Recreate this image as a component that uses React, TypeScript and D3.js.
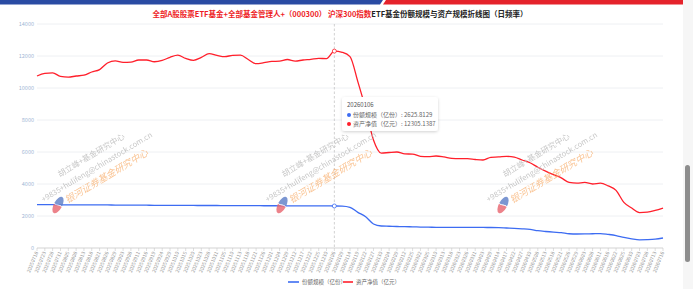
import React from "react";
import * as d3 from "d3";

// Trading dates shown on the category axis
const dates = [
  "20250718","20250723","20250728","20250731","20250805","20250808","20250813","20250818","20250821","20250826",
  "20250829","20250903","20250908","20250911","20250916","20250919","20250924","20250929","20251010","20251015",
  "20251020","20251023","20251028","20251031","20251105","20251110","20251113","20251118","20251121","20251126",
  "20251201","20251204","20251209","20251212","20251217","20251222","20251225","20251230","20260106","20260109",
  "20260114","20260119","20260122","20260127","20260130","20260204","20260209","20260212","20260225","20260302",
  "20260305","20260310","20260313","20260318","20260323","20260326","20260331","20260403","20260409","20260414",
  "20260417","20260422","20260427","20260430","20260508","20260513","20260518","20260521","20260526","20260529",
  "20260603","20260608","20260611","20260616","20260622","20260625","20260630","20260703","20260708","20260713",
  "20260716",
];

// 份额规模（亿份）
const shareSize = [
  2710,2705,2705,2700,2700,2695,2695,2690,2690,2690,
  2685,2685,2680,2680,2675,2670,2670,2665,2665,2660,
  2660,2655,2655,2655,2650,2650,2648,2645,2645,2640,
  2640,2638,2635,2635,2632,2630,2630,2628,2625.8129,2620,
  2540,2230,1950,1500,1375,1360,1345,1335,1325,1310,
  1300,1295,1290,1290,1290,1290,1290,1285,1280,1270,
  1250,1230,1200,1160,1080,1030,990,960,890,875,
  880,890,900,850,780,660,570,510,520,550,
  625,
];

// 资产净值（亿元）
const netAsset = [
  10750,10920,10950,10720,10680,10750,10800,11000,11150,11560,
  11700,11600,11620,11750,11750,11640,11720,11920,12050,11850,
  11730,11910,12150,12040,11960,12040,12050,11780,11520,11580,
  11660,11680,11780,11680,11750,11790,11850,11840,12305.1387,12230,
  11960,10400,8700,6750,5930,5970,6000,5880,5870,5730,
  5710,5750,5690,5600,5580,5580,5530,5500,5670,5690,
  5730,5680,5500,5330,5050,4800,4580,4380,4100,4050,
  4100,4000,4050,3880,3600,2850,2500,2210,2240,2350,
  2500,
];

const yTicks = [0, 2000, 4000, 6000, 8000, 10000, 12000, 14000];
const seriesNames = ["份额规模（亿份）", "资产净值（亿元）"];
const titleRed = "全部A股股票ETF基金+全部基金管理人+（000300） 沪深300指数";
const titleBlack = "ETF基金份额规模与资产规模折线图（日频率）";
const watermarkLines = ["胡立峰+基金研究中心", "+9835+hulifeng@chinastock.com.cn", "银河证券基金研究中心"];
const watermarkAnchors = [58, 282, 503];
const hoverDate = "20260106";

const W = 693;
const H = 289;
const BLUE = "#3d6cf2";
const RED = "#ff1f2b";
const FONT = "'Noto Sans CJK SC', 'Noto Sans', sans-serif";

function Logo({ x, y }: { x: number; y: number }) {
  return (
    <g transform={`translate(${x},${y}) rotate(-62)`} opacity={0.8}>
      <path d="M0,-4.2 A9,4.2 0 0 0 0,4.2 C2.5,1.6 -2.5,-1.6 0,-4.2 Z" fill="#e8646e" />
      <path d="M0,-4.2 A9,4.2 0 0 1 0,4.2 C2.5,1.6 -2.5,-1.6 0,-4.2 Z" fill="#5b7cc6" />
      <path d="M0,4.2 C2.5,1.6 -2.5,-1.6 0,-4.2" fill="none" stroke="#fff" strokeWidth={0.9} />
    </g>
  );
}

function Watermark({ x, y }: { x: number; y: number }) {
  return (
    <g>
      <g transform={`translate(${x},${y}) rotate(-31)`} fontFamily={FONT} dominantBaseline="middle">
        <text x={16} y={-25} fontSize={8} fill="#bdbdbd" opacity={0.85}>{watermarkLines[0]}</text>
        <text x={-11} y={-12} fontSize={7.6} fill="#bdbdbd" opacity={0.85}>{watermarkLines[1]}</text>
        <text x={9} y={1} fontSize={9.5} fontStyle="italic" fill="#f7a55c" opacity={0.65}>{watermarkLines[2]}</text>
      </g>
      <Logo x={x} y={y} />
    </g>
  );
}

export default function App() {
  const x = d3.scalePoint<string>().domain(dates).range([37, 663]);
  const y = d3.scaleLinear().domain([0, 14000]).range([248, 24]);

  const line = d3
    .line<number>()
    .x((_, i) => x(dates[i]) as number)
    .y((d) => y(d))
    .curve(d3.curveMonotoneX);

  const hi = dates.indexOf(hoverDate);
  const hx = x(hoverDate) as number;

  return (
    <svg
      width={W}
      height={H}
      style={{ position: "absolute", left: 0, top: 0, display: "block", background: "#fff" }}
      fontFamily={FONT}
    >
      <defs>
        <filter id="tipShadow" x="-20%" y="-30%" width="140%" height="160%">
          <feDropShadow dx="0" dy="1" stdDeviation="1.5" floodColor="#000" floodOpacity="0.18" />
        </filter>
      </defs>

      {/* top banner */}
      <polygon points="0,0 383,0 380,4.5 0,4.5" fill="#2a4ba3" />
      <polygon points="386,0 693,0 693,4.5 383,4.5" fill="#e5232b" />

      {/* title */}
      <text x={340} y={17} textAnchor="middle" fontSize={7.5} fontWeight="bold">
        <tspan fill="#ee1c25">{titleRed}</tspan>
        <tspan fill="#222">{titleBlack}</tspan>
      </text>

      {/* grid and y labels */}
      {yTicks.map((t) => (
        <g key={t}>
          {t > 0 && <line x1={37} x2={663} y1={y(t)} y2={y(t)} stroke="#eef0f3" strokeWidth={1} />}
          <text x={34} y={y(t)} textAnchor="end" dominantBaseline="middle" fontSize={5.5} fill="#9fb7d6">
            {t}
          </text>
        </g>
      ))}

      {/* x axis */}
      <line x1={37} x2={663} y1={248} y2={248} stroke="#c8c8c8" strokeWidth={0.8} />
      {dates.map((d) => {
        const px = x(d) as number;
        return (
          <g key={d}>
            <line x1={px} x2={px} y1={248} y2={251} stroke="#c8c8c8" strokeWidth={0.6} />
            <text
              transform={`translate(${px},252) rotate(-68)`}
              textAnchor="end"
              dominantBaseline="middle"
              fontSize={5}
              fill="#9a9a9a"
            >
              {d}
            </text>
          </g>
        );
      })}

      {/* crosshair */}
      <line x1={hx} x2={hx} y1={24} y2={248} stroke="#bbb" strokeWidth={0.7} strokeDasharray="2.5,2" />

      {/* series */}
      <path d={line(netAsset) || ""} fill="none" stroke={RED} strokeWidth={1.3} />
      <path d={line(shareSize) || ""} fill="none" stroke={BLUE} strokeWidth={1.3} />
      <circle cx={hx} cy={y(shareSize[hi])} r={2} fill="#fff" stroke={BLUE} strokeWidth={0.8} />
      <circle cx={hx} cy={y(netAsset[hi])} r={2} fill="#fff" stroke={RED} strokeWidth={0.8} />

      {/* watermarks */}
      {watermarkAnchors.map((wx) => (
        <Watermark key={wx} x={wx} y={205} />
      ))}

      {/* tooltip */}
      <g>
        <rect x={342} y={97} width={96} height={34} rx={3} fill="#fff" filter="url(#tipShadow)" />
        <text x={347} y={107} fontSize={6} fill="#555">{hoverDate}</text>
        <circle cx={349} cy={115} r={2} fill={BLUE} />
        <text x={353} y={117} fontSize={6} fill="#666">
          {seriesNames[0]}: {shareSize[hi].toFixed(4)}
        </text>
        <circle cx={349} cy={124} r={2} fill={RED} />
        <text x={353} y={126} fontSize={6} fill="#666">
          {seriesNames[1]}: {netAsset[hi].toFixed(4)}
        </text>
      </g>

      {/* legend */}
      <line x1={288} x2={299} y1={282} y2={282} stroke={BLUE} strokeWidth={1.6} />
      <text x={302} y={282} dominantBaseline="middle" fontSize={5.5} fill="#666">{seriesNames[0]}</text>
      <line x1={343} x2={353} y1={282} y2={282} stroke={RED} strokeWidth={1.6} />
      <text x={356} y={282} dominantBaseline="middle" fontSize={5.5} fill="#666">{seriesNames[1]}</text>

      {/* scrollbar */}
      <rect x={683} y={0} width={10} height={H} fill="#f6f6f6" />
      <rect x={685} y={165} width={5} height={97} rx={2.5} fill="#8d8d8d" />
    </svg>
  );
}
